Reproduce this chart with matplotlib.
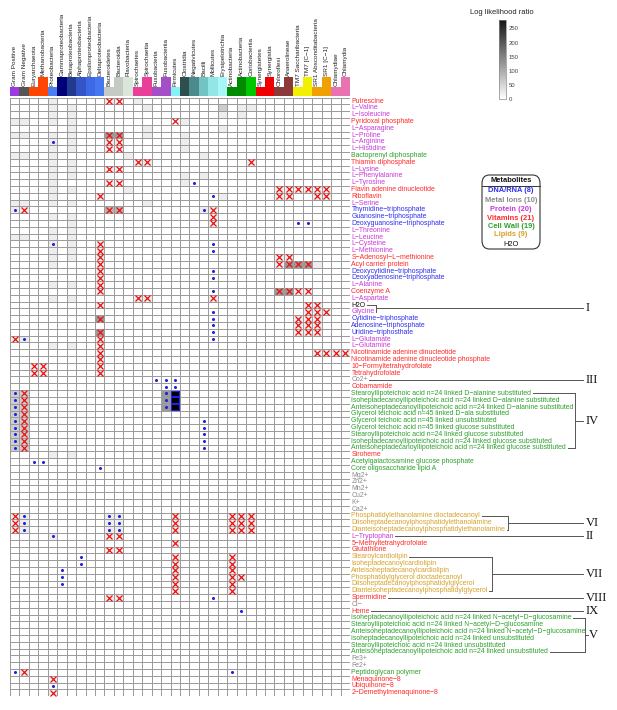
import matplotlib
matplotlib.use("Agg")
import matplotlib.pyplot as plt
import numpy as np
from matplotlib.patches import Rectangle, FancyBboxPatch
from matplotlib.colors import LinearSegmentedColormap, Normalize
from matplotlib.cm import ScalarMappable

plt.rcParams['font.family'] = ['Liberation Sans', 'DejaVu Sans']

# ---------------- data ----------------
columns = ["Gram Positive", "Gram Negative", "Euryarchaeota", "Methanobacteria",
           "Proteobacteria", "Gammaproteobacteria", "Betaproteobacteria",
           "Alphaproteobacteria", "Epsilonproteobacteria", "Deltaproteobacteria",
           "Bacteroidetes", "Bacteroidia", "Flavobacteria", "Spirochaetes",
           "Spirochaetia", "Fusobacteria", "Fusobacteriia", "Firmicutes",
           "Clostridia", "Negativicutes", "Bacilli", "Mollicutes", "Erysipelotrichia",
           "Actinobacteria", "Actinobacteria", "Coriobacteriia", "Synergistetes",
           "Synergistia", "Chloroflexi", "Anaerolineae", "TM7 Saccharibacteria",
           "TM7 [C\u22121]", "SR1 Absconditabacteria", "SR1 [C\u22121]",
           "Chlamydiae", "Chlamydia"]
column_colors = ["#9a3ae0", "#555555", "#ff4500", "#ff4500", "#4a7ff0", "#00007a",
                 "#223a8c", "#3454c8", "#3d68e6", "#4577f2", "#c4cbc4", "#c4cbc4",
                 "#dbe6db", "#e8409a", "#e8409a", "#a24fc8", "#a24fc8", "#86f2f8",
                 "#2f4f4f", "#4b8b8b", "#72c4c4", "#92e6e6", "#a8f6f6", "#008a00",
                 "#008a00", "#00c800", "#f00000", "#f00000", "#8b3a3a", "#8b3a3a",
                 "#f0f000", "#f0f000", "#f0a000", "#f0a000", "#e873b0", "#e873b0"]
column_is_class = [0, 0, 0, 1, 0, 1, 1, 1, 1, 1, 0, 1, 1, 0, 1, 0, 1, 0,
                   1, 1, 1, 1, 1, 0, 1, 1, 0, 1, 0, 1, 0, 1, 0, 1, 0, 1]

M = "\u2212"
metabolites = [
    "Putrescine", f"L{M}Valine", f"L{M}Isoleucine", "Pyridoxal phosphate",
    f"L{M}Asparagine", f"L{M}Proline", f"L{M}Arginine", f"L{M}Histidine",
    "Bactoprenyl diphosphate", "Thiamin diphosphate", f"L{M}Lysine",
    f"L{M}Phenylalanine", f"L{M}Tyrosine", "Flavin adenine dinucleotide",
    "Riboflavin", f"L{M}Serine", f"Thymidine{M}triphosphate",
    f"Guanosine{M}triphosphate", f"Deoxyguanosine{M}triphosphate", f"L{M}Threonine",
    f"L{M}Leucine", f"L{M}Cysteine", f"L{M}Methionine", f"S{M}Adenosyl{M}L{M}methionine",
    "Acyl carrier protein", f"Deoxycytidine{M}triphosphate",
    f"Deoxyadenosine{M}triphosphate", f"L{M}Alanine", "Coenzyme A", f"L{M}Aspartate",
    "H2O", "Glycine", f"Cytidine{M}triphosphate", f"Adenosine{M}triphosphate",
    f"Uridine{M}triphosthate", f"L{M}Glutamate", f"L{M}Glutamine",
    "Nicotinamide adenine dinucleotide", "Nicotinamide adenine dinucleotide phosphate",
    f"10{M}Formyltetrahydrofolate", "Tetrahydrofolate", "Co2+", "Cobamamide",
    f"Stearoyllipoteichoic acid n=24 linked D{M}alanine substituted",
    f"Isoheptadecanoyllipoteichoic acid n=24 linked D{M}alanine substituted",
    f"Anteisoheptadecanoyllipoteichoic acid n=24 linked D{M}alanine substituted",
    f"Glycerol teichoic acid n=45 linked D{M}ala substituted",
    "Glycerol teichoic acid n=45 linked unsubstituted",
    "Glycerol teichoic acid n=45 linked glucose substituted",
    "Stearoyllipoteichoic acid n=24 linked glucose substituted",
    "Isoheptadecanoyllipoteichoic acid n=24 linked glucose substituted",
    "Anteisoheptadecanoyllipoteichoic acid n=24 linked glucose substituted",
    "Siroheme", "Acetylgalactosamine glucose phosphate", "Core oligosaccharide lipid A",
    "Mg2+", "Zn2+", "Mn2+", "Cu2+", "K+", "Ca2+",
    "Phosphatidylethanolamine dioctadecanoyl",
    "Diisoheptadecanoylphosphatidylethanolamine",
    "Dianteisoheptadecanoylphosphatidylethanolamine",
    f"L{M}Tryptophan", f"5{M}Methyltetrahydrofolate", "Glutathione",
    "Stearoylcardiolipin", "Isoheptadecanoylcardiolipin",
    "Anteisoheptadecanoylcardiolipin", "Phosphatidylglycerol dioctadecanoyl",
    "Diisoheptadecanoylphosphatidylglycerol",
    "Dianteisoheptadecanoylphosphatidylglycerol", "Spermidine", f"Cl{M}", "Heme",
    f"Isoheptadecanoyllipoteichoic acid n=24 linked N{M}acetyl{M}D{M}glucosamine",
    f"Stearoyllipoteichoic acid n=24 linked N{M}acetyl{M}D{M}glucosamine",
    f"Anteisoheptadecanoyllipoteichoic acid n=24 linked N{M}acetyl{M}D{M}glucosamine",
    "Isoheptadecanoyllipoteichoic acid n=24 linked unsubstituted",
    "Stearoyllipoteichoic acid n=24 linked unsubstituted",
    "Anteisoheptadecanoyllipoteichoic acid n=24 linked unsubstituted",
    "Fe3+", "Fe2+", "Peptidoglycan polymer", f"Menaquinone{M}8", f"Ubiquinone{M}8",
    f"2{M}Demethylmenaquinone{M}8"]
# category per metabolite: D DNA/RNA, M metal, P protein, V vitamin, C cell wall, L lipid, H water
categories = ("VPPVPPPPCVPPPVVPDDDPPPPVVDDPVPHPDDDPPVVVVMV"
              "CCCCCCCCCVCCMMMMMMLLLPVVLLLLLLVMVCCCCCCMMCVVV")

# grey level per cell (0-9, x30 = log likelihood ratio), one string per metabolite
level_rows = [
    "....1.....11.1......................",  # 0 Putrescine
    "....1.1.......1.......2.11..........",  # 1
    "....1.1...............1.1...........",  # 2
    "11..1.1...........1.................",  # 3
    "......1.......1.......1.............",  # 4
    "11..1.1...44..1...1.................",  # 5
    "....1.1...11......1.................",  # 6
    "....1.1...11......1.................",  # 7
    "11..1.......1.......1...............",  # 8
    "....1.1......11..........1..........",  # 9
    "....1.1...11........................",  # 10
    "....1.1...........1.1...............",  # 11
    "....1.....11......1.................",  # 12
    "....1.1.....1...............111111..",  # 13
    "....1....1............1.....11..11..",  # 14
    "11..1.1.......1.....................",  # 15
    "11........33........11..............",  # 16
    "....1.1..............1..............",  # 17
    "......1..............1..............",  # 18
    "....1.1.............................",  # 19
    "11..1.1.............................",  # 20
    "....1.1..1..........................",  # 21
    "....1.1..1..........................",  # 22
    "....1.1..1..................11......",  # 23
    "....1....1..................14441...",  # 24
    ".........1..........................",  # 25
    ".........1..........................",  # 26
    "....1.1..1..........................",  # 27
    ".........1..................4411....",  # 28
    "....1.1......11......1..............",  # 29
    ".........1.....................11...",  # 30
    "...............................111..",  # 31
    ".........4....................111...",  # 32
    "..............................111...",  # 33
    ".........4....................111...",  # 34
    "11.......1..........................",  # 35
    "....1.1..1..........................",  # 36
    ".........1......................1111",  # 37
    ".........1..........................",  # 38
    "..11.....1..........................",  # 39
    "..11.....1..........................",  # 40
    "....................................",  # 41
    "....................................",  # 42
    "22..............49..................",  # 43
    "22..............49..................",  # 44
    "22..............49..................",  # 45
    "22..................................",  # 46
    "22..................................",  # 47
    "22..................................",  # 48
    "22..................................",  # 49
    "22..................................",  # 50
    "22..................................",  # 51
    "....1.1.............................",  # 52
    "....................................",  # 53
    "....................................",  # 54
    "....................................",  # 55
    "....................................",  # 56
    "....................................",  # 57
    "....................................",  # 58
    "....................................",  # 59
    "....................................",  # 60
    "11........11.....1.....111..........",  # 61
    "11........11.....1.....111..........",  # 62
    "11........11.....1.....111..........",  # 63
    "....1.....11........................",  # 64
    ".................1..................",  # 65
    "..........11........................",  # 66
    ".................1.....1............",  # 67
    ".................1.....1............",  # 68
    ".................1.....1............",  # 69
    ".................1.....11...........",  # 70
    ".................1.....1............",  # 71
    ".................1.....1............",  # 72
    "..........11........................",  # 73
    "....................................",  # 74
    "....................................",  # 75
    "....................................",  # 76
    "....................................",  # 77
    "....................................",  # 78
    "....................................",  # 79
    "....................................",  # 80
    "....................................",  # 81
    "....................................",  # 82
    "....................................",  # 83
    ".1..................................",  # 84
    "....1...............................",  # 85
    "....................................",  # 86
    "....1...............................",  # 87
]
# markers per cell: x = red cross, o = blue dot, b = black box
mark_rows = [
    "..........xx........................",  # 0
    "....................................",  # 1
    "....................................",  # 2
    ".................x..................",  # 3
    "....................................",  # 4
    "..........xx........................",  # 5
    "....o.....xx........................",  # 6
    "..........xx........................",  # 7
    "....................................",  # 8
    ".............xx..........x..........",  # 9
    "..........xx........................",  # 10
    "....................................",  # 11
    "..........xx.......o................",  # 12
    "............................xxxxxx..",  # 13
    ".........x...........o......xx..xx..",  # 14
    "....................................",  # 15
    "ox........xx........ox..............",  # 16
    ".....................x..............",  # 17
    ".....................x........oo....",  # 18
    "....................................",  # 19
    "....................................",  # 20
    "....o....x...........o..............",  # 21
    ".........x...........o..............",  # 22
    ".........x..................xx......",  # 23
    ".........x..................xxxx....",  # 24
    ".........x...........o..............",  # 25
    ".........x...........o..............",  # 26
    ".........x..........................",  # 27
    ".........x...........o......xxxx....",  # 28
    ".............xx......x..............",  # 29
    ".........x.....................xx...",  # 30
    ".....................o.........xxx..",  # 31
    ".........x...........o........xxx...",  # 32
    ".....................o........xxx...",  # 33
    ".........x...........o........xxx...",  # 34
    "xo.......x...........o..............",  # 35
    ".........x..........................",  # 36
    ".........x......................xxxx",  # 37
    ".........x..........................",  # 38
    "..xx.....x..........................",  # 39
    "..xx.....x..........................",  # 40
    "...............ooo..................",  # 41
    "................oo..................",  # 42
    "ox..............ob..................",  # 43
    "ox..............ob..................",  # 44
    "ox..............ob..................",  # 45
    "ox..................................",  # 46
    "ox..................o...............",  # 47
    "ox..................o...............",  # 48
    "ox..................o...............",  # 49
    "ox..................o...............",  # 50
    "ox..................o...............",  # 51
    "....................................",  # 52
    "..oo................................",  # 53
    ".........o..........................",  # 54
    "....................................",  # 55
    "....................................",  # 56
    "....................................",  # 57
    "....................................",  # 58
    "....................................",  # 59
    "....................................",  # 60
    "xo........oo.....x.....xxx..........",  # 61
    "xo........oo.....x.....xxx..........",  # 62
    "xo........oo.....x.....xxx..........",  # 63
    "....o.....xx........................",  # 64
    ".................x..................",  # 65
    "..........xx........................",  # 66
    ".......o.........x.....x............",  # 67
    ".......o.........x.....x............",  # 68
    ".....o...........x.....x............",  # 69
    ".....o...........x.....xx...........",  # 70
    ".....o...........x.....x............",  # 71
    ".................x.....x............",  # 72
    "..........xx.........o..............",  # 73
    "....................................",  # 74
    "........................o...........",  # 75
    "....................................",  # 76
    "....................................",  # 77
    "....................................",  # 78
    "....................................",  # 79
    "....................................",  # 80
    "....................................",  # 81
    "....................................",  # 82
    "....................................",  # 83
    "ox.....................o............",  # 84
    "....x...............................",  # 85
    "....o...............................",  # 86
    "....x...............................",  # 87
]

cbar_ticks = [0, 50, 100, 150, 200, 250]
vmax = 280

legend_items = ["DNA/RNA (8)", "Metal Ions (10)", "Protein (20)", "Vitamins (21)",
                "Cell Wall (19)", "Lipids (9)", "H2O"]
cat_colors = {"D": "#3030ee", "M": "#8a8a8a", "P": "#c83ad8", "V": "#ff2a2a",
              "C": "#2ea02e", "L": "#d6a22a", "H": "#111111"}
legend_colors = [cat_colors[c] for c in "DMPVCLH"]

# bracket groups: (first row, last row, numeral)
groups = [(30, 31, "I"), (41, 41, "III"), (43, 51, "IV"), (61, 63, "VI"),
          (64, 64, "II"), (67, 72, "VII"), (73, 73, "VIII"), (75, 75, "IX"),
          (76, 81, "V")]

# ---------------- figure ----------------
W, H = 617, 710
fig = plt.figure(figsize=(W / 100, H / 100), dpi=100)
nr, nc = len(metabolites), len(columns)
gl, gr, gt, gb = 10, 350, 97.6, 696.2
ax = fig.add_axes([gl / W, 1 - gb / H, (gr - gl) / W, (gb - gt) / H])
ax.set_xlim(0, nc)
ax.set_ylim(nr, 0)
ax.axis('off')

cmap = LinearSegmentedColormap.from_list("g", ["#ffffff", "#151515"])
levels = np.array([[0 if ch == "." else int(ch) * 30 for ch in row] for row in level_rows],
                  dtype=float)
levels[levels == 30] = 22
ax.pcolormesh(np.arange(nc + 1), np.arange(nr + 1), levels, cmap=cmap, vmin=0, vmax=vmax,
              edgecolors="#9c9c9c", linewidth=0.7)

for r, row in enumerate(mark_rows):
    for c, ch in enumerate(row):
        if ch == "x":
            ax.plot(c + 0.5, r + 0.5, marker="x", color="#ee1111", ms=4.2, mew=0.9)
        elif ch == "o":
            ax.plot(c + 0.5, r + 0.5, marker="o", color="#2020dd", ms=2.2, mew=0)
        elif ch == "b":
            ax.add_patch(Rectangle((c + 0.08, r + 0.08), 0.84, 0.84, facecolor="black",
                                   edgecolor="#2020dd", lw=0.8))

# header boxes + labels
for i, (name, col, cls) in enumerate(zip(columns, column_colors, column_is_class)):
    top = -3.0 if cls else -1.55
    ax.add_patch(Rectangle((i, -0.2), 1, top + 0.2, facecolor=col, edgecolor="none",
                           clip_on=False))
    ax.text(i + 0.5, top - 0.2, name, rotation=90, ha="center", va="bottom",
            fontsize=4.6, color="#222222", clip_on=False)

# row labels
label_texts = []
for r, (name, cat) in enumerate(zip(metabolites, categories)):
    t = ax.text(nc + 0.15, r + 0.5, name, ha="left", va="center", fontsize=4.95,
                color=cat_colors[cat], clip_on=False)
    label_texts.append(t)

# colorbar
cax = fig.add_axes([499 / W, 1 - 99 / H, 7 / W, 79 / H])
cb = fig.colorbar(ScalarMappable(Normalize(0, vmax), cmap), cax=cax, ticks=cbar_ticks)
cb.ax.tick_params(labelsize=4.3, length=0, pad=2, labelcolor="#444444")
cb.outline.set_linewidth(0.5)
cb.outline.set_edgecolor("#888888")
fig.text(502 / W, 1 - 13 / H, "Log likelihood ratio", ha="center", va="center",
         fontsize=5.4, color="#222222")

# metabolites legend
lx0, ly0, lx1, ly1 = 482, 175, 540, 249
fig.patches.append(FancyBboxPatch((lx0 / W, 1 - ly1 / H), (lx1 - lx0) / W, (ly1 - ly0) / H,
                                  boxstyle="round,pad=0,rounding_size=0.012",
                                  transform=fig.transFigure, facecolor="white",
                                  edgecolor="#333333", lw=0.8))
fig.text(511 / W, 1 - 181 / H, "Metabolites", ha="center", va="center", fontsize=5.4,
         fontweight="bold", color="#111111")
fig.add_artist(plt.Line2D([lx0 / W, lx1 / W], [1 - 185.5 / H, 1 - 185.5 / H],
                          color="#333333", lw=0.7, transform=fig.transFigure))
for k, (lab, colr) in enumerate(zip(legend_items, legend_colors)):
    yy = [191, 200, 209, 218, 227, 235, 244][k]
    fig.text(511 / W, 1 - yy / H, lab, ha="center", va="center", fontsize=5.4,
             color=colr, fontweight="bold" if k < 6 else "normal")

# brackets
fig.canvas.draw()
renderer = fig.canvas.get_renderer()
inv = ax.transData.inverted()
def text_end(r):
    bb = label_texts[r].get_window_extent(renderer)
    return inv.transform((bb.x1, bb.y0))[0] + 0.15
px = (gr - gl) / nc
lc = "#555555"
bracket_x = {"I": 376, "IV": 575, "VI": 508, "VII": 492, "V": 585}
num_x = 586
for (r0, r1, num) in groups:
    xn = (num_x - 3 - gl) / px
    if r0 == r1:
        ax.plot([text_end(r0), xn], [r0 + 0.5, r0 + 0.5], color=lc, lw=0.7, clip_on=False)
        ym = r0 + 0.5
    else:
        bx = (bracket_x[num] - gl) / px
        for r in (r0, r1):
            ax.plot([text_end(r), bx], [r + 0.5, r + 0.5], color=lc, lw=0.7, clip_on=False)
        ax.plot([bx, bx], [r0 + 0.5, r1 + 0.5], color=lc, lw=0.7, clip_on=False)
        ym = (r0 + r1) / 2 + 0.5
        ax.plot([bx, max(xn, bx + 0.3)], [ym, ym], color=lc, lw=0.7, clip_on=False)
    ax.text((num_x - gl) / px + (0.35 if num == "V" else 0), ym, num, ha="left",
            va="center", fontsize=9, family="Liberation Serif", color="#111111",
            clip_on=False)

fig.savefig("out.png", dpi=100)
